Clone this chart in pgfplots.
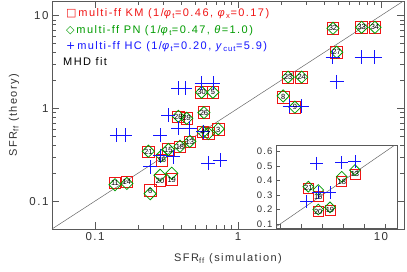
\documentclass[border=0pt]{standalone}
\usepackage{pgfplots}
\pgfplotsset{compat=1.18}
\usepackage{fontspec}
\setmainfont{Liberation Sans}[LetterSpace=13]
\newfontfamily\symfont{DejaVu Sans}
\newfontfamily\numfont{Liberation Sans}
\definecolor{kmred}{RGB}{240,20,20}
\definecolor{pngreen}{RGB}{0,155,0}
\definecolor{hcblue}{RGB}{20,20,255}
\pgfplotstableread{
label x ykm ypn
32 4.62 7.30 7.30
33 7.33 7.48 7.48
34 9.08 7.48 7.48
27 4.90 4.03 4.03
23 2.24 2.17 2.17
24 2.79 2.17 2.17
8 2.07 1.32 1.36
9 2.50 1.03 1.03
30 0.557 1.49 1.49
5 0.668 1.49 1.49
26 0.578 0.90 0.90
28 0.383 0.81 0.82
29 0.438 0.78 0.78
3 0.728 0.59 0.60
4 0.57 0.557 0.557
7 0.62 0.535 0.535
13 0.46 0.435 0.44
18 0.393 0.385 0.39
15 0.326 0.36 0.36
21 0.236 0.34 0.345
16 0.293 0.276 0.31
11 0.138 0.157 0.15
14 0.167 0.161 0.155
20 0.285 0.166 0.19
19 0.344 0.171 0.20
6 0.243 0.13 0.12
}\maintab
\pgfplotstableread{
x y
0.142 0.514
0.162 0.514
0.285 0.514
0.326 0.84
0.383 1.64
0.426 1.64
0.557 1.87
0.67 1.87
0.383 0.607
0.46 0.61
0.57 0.56
4.6 3.58
7.33 3.55
9.08 3.55
4.9 1.93
2.3 1.05
2.79 1.05
0.62 0.255
0.75 0.277
0.243 0.234
0.353 0.30
0.285 0.31
}\hctab
\pgfplotstableread{
label x ykm ypn
21 0.234 0.347 0.358
16 0.281 0.289 0.335
18 0.393 0.393 0.427
13 0.456 0.446 0.473
20 0.281 0.185 0.200
19 0.337 0.197 0.215
}\insettab
\pgfplotstableread{
x y
0.274 0.520
0.393 0.524
0.456 0.531
0.281 0.317
0.337 0.317
0.226 0.256
}\insethc
\pgfplotsset{numlabels/.style={only marks, mark=*, mark size=0.01pt, mark options={draw=none, fill=none},
  nodes near coords, point meta=explicit symbolic,
  every node near coord/.style={anchor=center, font=\numfont\fontsize{7.5}{8}\selectfont, text=black, inner sep=0pt, fill=none, draw=none}}}
\begin{document}
\begin{tikzpicture}
\begin{axis}[
  at={(0pt,0pt)}, anchor=south west,
  scale only axis, width=352pt, height=227.5pt,
  xmode=log, ymode=log,
  xmin=0.05, xmax=14.5, ymin=0.05, ymax=14.2,
  xtick={0.1,1,10}, ytick={0.1,1,10},
  xticklabels={0.1,1,10}, yticklabels={0.1,1,10},
  tick align=inside, major tick length=7pt, minor tick length=4pt,
  axis line style={black!65}, every tick/.style={black!65},
  tick label style={font=\fontsize{11.5}{13}\selectfont, black!80},
  label style={font=\fontsize{11}{13}\selectfont, black!80},
  xlabel={SFR\textsubscript{ff} (simulation)},
  ylabel={SFR\textsubscript{ff} (theory)},
  xlabel style={at={(axis description cs:0.5,-0.132)}, anchor=center},
  ylabel style={at={(axis description cs:-0.108,0.5)}, anchor=center, rotate=0},
  clip=true,
]
\addplot[black!60, line width=0.5pt] coordinates {(0.05,0.05) (15,15)};
\addplot[only marks, mark=square, mark size=5.8pt, kmred, mark options={line width=0.8pt}] table[x=x, y=ykm] {\maintab};
\addplot[only marks, mark=square, mark size=4.3pt, pngreen, mark options={rotate=45, line width=0.8pt}] table[x=x, y=ypn] {\maintab};
\addplot[only marks, mark=+, mark size=7pt, hcblue, mark options={line width=0.9pt}] table[x=x, y=y] {\hctab};
\addplot[numlabels] table[x=x, y=ykm, meta=label] {\maintab};
\end{axis}
\begin{axis}[
  at={(224pt,1pt)}, anchor=south west,
  scale only axis, width=121pt, height=82.3pt,
  xmin=0.08, xmax=0.656, ymin=0.0723, ymax=0.6415,
  xtick={0.1,0.2,0.3,0.4,0.5,0.6}, xticklabels={},
  ytick={0.1,0.2,0.3,0.4,0.5,0.6}, yticklabels={0.1,0.2,0.3,0.4,0.5,0.6},
  ytick pos=left, xtick pos=bottom,
  tick align=inside, major tick length=4pt,
  axis line style={black!65}, every tick/.style={black!65},
  tick label style={font=\fontsize{9.5}{10}\selectfont, black!80},
  axis background/.style={fill=white},
  clip=true,
]
\addplot[black!60, line width=0.5pt] coordinates {(0.05,0.05) (0.7,0.7)};
\addplot[only marks, mark=square, mark size=5pt, kmred, mark options={line width=0.8pt}] table[x=x, y=ykm] {\insettab};
\addplot[only marks, mark=square, mark size=3.8pt, pngreen, mark options={rotate=45, line width=0.8pt}] table[x=x, y=ypn] {\insettab};
\addplot[only marks, mark=+, mark size=6.5pt, hcblue, mark options={line width=0.9pt}] table[x=x, y=y] {\insethc};
\addplot[numlabels] table[x=x, y=ykm, meta=label] {\insettab};
\end{axis}
\begin{scope}[font=\fontsize{11}{13}\selectfont]
\node[anchor=base west, text=kmred, inner sep=0pt] at (14pt,212pt) {{\symfont □}\,multi-ff KM (1/\textit{φ}\textsubscript{t}=0.46, \textit{φ}\textsubscript{x}=0.17)};
\node[anchor=base west, text=pngreen, inner sep=0pt] at (14pt,195.5pt) {{\symfont ◇}\,multi-ff PN (1/\textit{φ}\textsubscript{t}=0.47, \textit{θ}=1.0)};
\node[anchor=base west, text=hcblue, inner sep=0pt] at (14pt,179pt) {{\symfont +}\,multi-ff HC (1/\textit{φ}\textsubscript{t}=0.20, \textit{y}\textsubscript{cut}=5.9)};
\node[anchor=base west, text=black, inner sep=0pt] at (11pt,163pt) {MHD fit};
\end{scope}
\pgfresetboundingbox
\useasboundingbox (-52pt,-43pt) rectangle (355pt,229pt);
\end{tikzpicture}
\end{document}
